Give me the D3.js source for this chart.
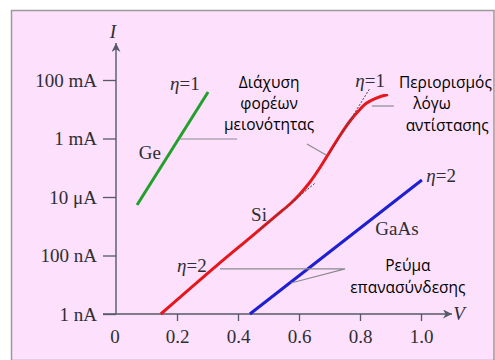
<!DOCTYPE html>
<html>
<head>
<meta charset="utf-8">
<script src="https://cdn.jsdelivr.net/npm/d3@7"></script>
<style>
  html, body { margin: 0; padding: 0; background: #ffffff; }
  svg { display: block; }
</style>
</head>
<body>
<svg id="chart" width="495" height="360"></svg>
<script>
// Diode I–V characteristics on a log current axis
const voltageTicks = [0, 0.2, 0.4, 0.6, 0.8, 1.0];
const voltageTickLabels = ["0", "0.2", "0.4", "0.6", "0.8", "1.0"];
const currentTicks = [1e-9, 1e-7, 1e-5, 1e-3, 1e-1];
const currentTickLabels = ["1 nA", "100 nA", "10 μA", "1 mA", "100 mA"];

// Germanium (ideality 1)
const geV = [0.069, 0.302];
const geI = [5.3e-6, 3.9e-2];

// Silicon: recombination region, diffusion region, series-resistance roll-off
const siV = [0.147, 0.33, 0.44, 0.528, 0.5705, 0.6033, 0.6361, 0.6689, 0.7016, 0.7344, 0.7672, 0.7934, 0.8197, 0.8492, 0.8918];
const siI = [1.0e-9, 4.5e-8, 4.1e-7, 2.43e-6, 5.77e-6, 1.27e-5, 3.26e-5, 1.02e-4, 3.6e-4, 1.27e-3, 3.96e-3, 8.38e-3, 1.57e-2, 2.33e-2, 3.19e-2];

// Gallium arsenide (ideality 2)
const gaasV = [0.439, 1.003];
const gaasI = [1.0e-9, 3.8e-5];

// Tangent (asymptote) lines on the Si curve
const tangent1V = [0.70, 0.833];
const tangent1I = [3.1e-4, 5.3e-2];
const tangent2V = [0.47, 0.655];
const tangent2I = [7.6e-7, 3.13e-5];

const svg = d3.select("#chart");
const W = 495, H = 360;

const x = d3.scaleLinear().domain([0, 1]).range([116, 421]);
const y = d3.scaleLog().domain([1e-9, 1e-1]).range([314, 80]);

const serif = "'Liberation Serif', 'Times New Roman', serif";
const sans = "'Open Sans', 'Noto Sans', sans-serif";
const axisColor = "#555a66";
const textColor = "#2e2e33";
const pointerColor = "#8a8a90";
const serifSize = 19;

// Panel
svg.append("rect")
  .attr("x", 11.5).attr("y", 10.5)
  .attr("width", W - 12.5).attr("height", H - 10)
  .attr("fill", "#fde0fb")
  .attr("stroke", "#9a9a9a").attr("stroke-width", 1.5);

// Arrow head marker
const defs = svg.append("defs");
defs.append("marker")
  .attr("id", "arrow")
  .attr("viewBox", "0 0 10 10")
  .attr("refX", 10).attr("refY", 5)
  .attr("markerWidth", 10).attr("markerHeight", 9)
  .attr("markerUnits", "userSpaceOnUse")
  .attr("orient", "auto")
  .append("path")
  .attr("d", "M0,0 L10,5 L0,10 L3,5 Z")
  .attr("fill", axisColor);

const x0 = x.range()[0], yBase = y.range()[0];

// Axes lines with arrows
svg.append("line")
  .attr("x1", x0).attr("y1", yBase)
  .attr("x2", x0).attr("y2", y.range()[1] - 37)
  .attr("stroke", axisColor).attr("stroke-width", 1.4)
  .attr("marker-end", "url(#arrow)");
svg.append("line")
  .attr("x1", x0 - 13).attr("y1", yBase)
  .attr("x2", x.range()[1] + 31).attr("y2", yBase)
  .attr("stroke", axisColor).attr("stroke-width", 1.4)
  .attr("marker-end", "url(#arrow)");

// X axis ticks and labels
const xAxis = d3.axisBottom(x)
  .tickValues(voltageTicks.slice(1))
  .tickSize(7)
  .tickFormat((d) => voltageTickLabels[voltageTicks.indexOf(d)]);
const gx = svg.append("g").attr("transform", `translate(0,${yBase})`).call(xAxis);
gx.select(".domain").remove();
gx.selectAll("line").attr("stroke", axisColor).attr("stroke-width", 1.3);
gx.selectAll("text")
  .attr("font-family", serif).attr("font-size", serifSize).attr("fill", textColor)
  .attr("dy", null).attr("y", 29);
svg.append("text")
  .attr("x", x(0) - 1).attr("y", yBase + 29)
  .attr("text-anchor", "middle")
  .attr("font-family", serif).attr("font-size", serifSize).attr("fill", textColor)
  .text(voltageTickLabels[0]);

// Y axis ticks and labels
const yAxis = d3.axisLeft(y)
  .tickValues(currentTicks)
  .tickSize(13)
  .tickPadding(6)
  .tickFormat((d) => currentTickLabels[currentTicks.indexOf(d)]);
const gy = svg.append("g").attr("transform", `translate(${x0},0)`).call(yAxis);
gy.select(".domain").remove();
gy.selectAll("line").attr("stroke", axisColor).attr("stroke-width", 1.3);
gy.selectAll("text")
  .attr("font-family", serif).attr("font-size", serifSize).attr("fill", textColor);

// Axis titles
svg.append("text")
  .attr("x", x0 - 3).attr("y", y.range()[1] - 42)
  .attr("text-anchor", "middle")
  .attr("font-family", serif).attr("font-style", "italic")
  .attr("font-size", serifSize).attr("fill", textColor)
  .text("I");
svg.append("text")
  .attr("x", x.range()[1] + 38).attr("y", yBase + 6)
  .attr("text-anchor", "middle")
  .attr("font-family", serif).attr("font-style", "italic")
  .attr("font-size", serifSize).attr("fill", textColor)
  .text("V");

// Curves
const line = d3.line().x((d) => x(d[0])).y((d) => y(d[1]));
const smooth = d3.line().x((d) => x(d[0])).y((d) => y(d[1])).curve(d3.curveCatmullRom.alpha(0.5));
const zip = (a, b) => a.map((v, i) => [v, b[i]]);

function drawTangent(vs, is) {
  svg.append("path")
    .datum(zip(vs, is))
    .attr("d", line)
    .attr("fill", "none")
    .attr("stroke", "#444")
    .attr("stroke-width", 1)
    .attr("stroke-dasharray", "2,1.5");
}

svg.append("path")
  .datum(zip(geV, geI))
  .attr("d", line)
  .attr("fill", "none").attr("stroke", "#22a02c").attr("stroke-width", 3);

svg.append("path")
  .datum(zip(siV, siI))
  .attr("d", smooth)
  .attr("fill", "none").attr("stroke", "#e5171c").attr("stroke-width", 3);

svg.append("path")
  .datum(zip(gaasV, gaasI))
  .attr("d", line)
  .attr("fill", "none").attr("stroke", "#1d1fd0").attr("stroke-width", 3);

drawTangent(tangent1V, tangent1I);
drawTangent(tangent2V, tangent2I);

// Pointer lines from labels to curves
const pointers = [
  [[0.207, 10 ** -3.017], [0.397, 10 ** -3.017]],
  [[0.626, 10 ** -3.188], [0.689, 10 ** -3.564]],
  [[0.839, 10 ** -1.889], [0.911, 10 ** -1.889]],
  [[0.341, 10 ** -7.46], [0.751, 10 ** -7.46], [0.574, 10 ** -7.94]]
];
pointers.forEach((p) => {
  svg.append("path")
    .datum(p)
    .attr("d", line)
    .attr("fill", "none").attr("stroke", pointerColor).attr("stroke-width", 1.2);
});

// Ideality factor and material labels
function etaLabel(v, logI, n) {
  const t = svg.append("text")
    .attr("x", x(v)).attr("y", y(10 ** logI))
    .attr("dy", "0.35em")
    .attr("text-anchor", "middle")
    .attr("font-family", serif).attr("font-size", serifSize).attr("fill", textColor);
  t.append("tspan").attr("font-style", "italic").text("η");
  t.append("tspan").text("=" + n);
}
etaLabel(0.226, -1.10, 1);
etaLabel(0.833, -1.00, 1);
etaLabel(0.249, -7.325, 2);
etaLabel(1.066, -4.248, 2);

function serifLabel(v, logI, s) {
  svg.append("text")
    .attr("x", x(v)).attr("y", y(10 ** logI))
    .attr("dy", "0.35em")
    .attr("text-anchor", "middle")
    .attr("font-family", serif).attr("font-size", serifSize).attr("fill", textColor)
    .text(s);
}
serifLabel(0.111, -3.46, "Ge");
serifLabel(0.469, -5.58, "Si");
serifLabel(0.921, -6.06, "GaAs");

// Greek annotation blocks
function sansBlock(lines) {
  lines.forEach(([v, logI, s]) => {
    svg.append("text")
      .attr("x", x(v)).attr("y", y(10 ** logI))
      .attr("dy", "0.35em")
      .attr("text-anchor", "middle")
      .attr("font-family", sans).attr("font-size", 15.5).attr("fill", "#000")
      .text(s);
  });
}
sansBlock([
  [0.502, -1.103, "Διάχυση"],
  [0.502, -1.82, "φορέων"],
  [0.502, -2.54, "μειονότητας"]
]);
sansBlock([
  [1.08, -1.10, "Περιορισμός"],
  [1.036, -1.82, "λόγω"],
  [1.086, -2.57, "αντίστασης"]
]);
sansBlock([
  [0.957, -7.359, "Ρεύμα"],
  [0.957, -8.08, "επανασύνδεσης"]
]);
</script>
</body>
</html>
